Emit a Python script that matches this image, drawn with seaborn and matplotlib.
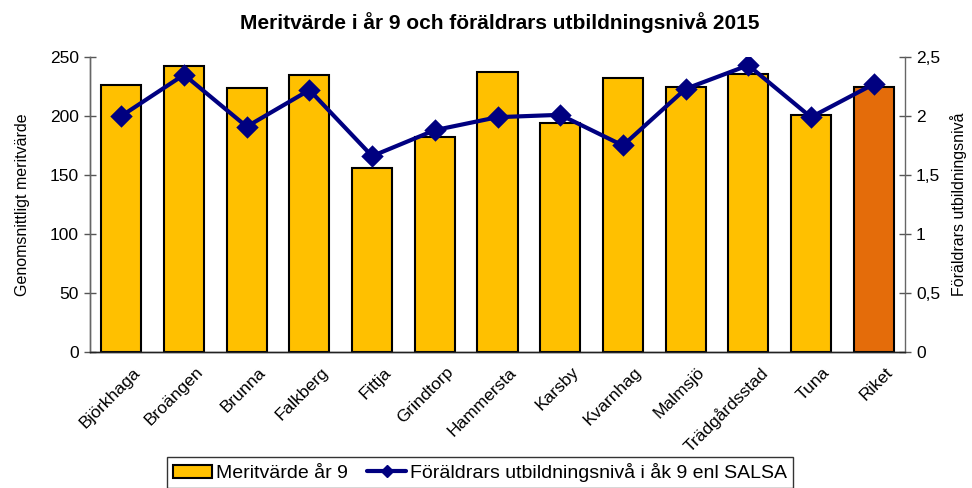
import matplotlib
matplotlib.use("Agg")
import matplotlib.pyplot as plt
import seaborn as sns
from matplotlib.patches import Patch
from matplotlib.lines import Line2D
from matplotlib.transforms import ScaledTranslation

# data
skolor = ["Björkhaga", "Broängen", "Brunna", "Falkberg", "Fittja", "Grindtorp",
          "Hammersta", "Karsby", "Kvarnhag", "Malmsjö", "Trädgårdsstad", "Tuna", "Riket"]
meritvarde = [226, 242, 224, 235, 156, 182, 237, 194, 232, 225, 236, 201, 225]
salsa = [2.0, 2.35, 1.91, 2.22, 1.66, 1.88, 1.99, 2.01, 1.75, 2.23, 2.43, 1.99, 2.27]
bar_colors = ["#FFC000"] * 12 + ["#E46C0A"]
left_ticks = [0, 50, 100, 150, 200, 250]
right_ticks = [0, 0.5, 1, 1.5, 2, 2.5]
right_ticklabels = ["0", "0,5", "1", "1,5", "2", "2,5"]

sns.set_style("white")
plt.rcParams['font.family'] = ['Liberation Sans', 'DejaVu Sans']
plt.rcParams.update({"text.color": "black", "axes.labelcolor": "black",
                     "xtick.labelcolor": "black", "ytick.labelcolor": "black"})

fig = plt.figure(figsize=(9.72, 4.88), dpi=100)
ax = fig.add_axes([90/972, 1-352/488, 815/972, 295/488])

sns.barplot(x=skolor, y=meritvarde, hue=skolor, palette=bar_colors, legend=False,
            width=0.64, edgecolor="black", linewidth=1.5, saturation=1, ax=ax)
ax.set_ylim(0, 250)
ax.set_yticks(left_ticks)
ax.set_ylabel("Genomsnittligt meritvärde", fontsize=11.5, labelpad=14)
ax.set_xlabel("")

ax2 = ax.twinx()
sns.pointplot(x=skolor, y=salsa, color="#000080", markers="D", markersize=9,
              linewidth=3, ax=ax2)
ax2.set_ylim(0, 2.5)
ax2.set_yticks(right_ticks)
ax2.set_yticklabels(right_ticklabels)
ax2.set_ylabel("Föräldrars utbildningsnivå", fontsize=11.5, labelpad=7)
ax2.tick_params(axis="y", direction="inout", length=8, width=1, color="#555555",
                labelcolor="black", labelsize=12.5, pad=4)
ax.set_xlim(-0.5, len(skolor) - 0.5)

# category boundaries as x ticks, labels as minor ticks at centres
ax.set_xticks([i - 0.5 for i in range(len(skolor) + 1)])
ax.set_xticklabels([])
ax.set_xticks(range(len(skolor)), minor=True)
ax.set_xticklabels(skolor, minor=True, rotation=45, ha="right", rotation_mode="anchor", fontsize=12.5)
ax.tick_params(axis="x", which="minor", length=0, pad=9, labelcolor="black")
ax.tick_params(axis="x", which="major", direction="inout", length=8, width=1, color="#333333")
ax.tick_params(axis="y", direction="inout", length=8, width=1, color="#555555",
               labelcolor="black", labelsize=12.5, pad=4)
shift = ScaledTranslation(11/100, 0, fig.dpi_scale_trans)
for lbl in ax.get_xticklabels(minor=True):
    lbl.set_transform(lbl.get_transform() + shift)

for a in (ax, ax2):
    a.spines["top"].set_visible(False)
    a.spines["left"].set_color("#666666")
    a.spines["right"].set_color("#666666")
    a.spines["bottom"].set_color("#222222")
    for s in a.spines.values():
        s.set_linewidth(1)
ax2.spines["right"].set_visible(True)
ax.spines["right"].set_visible(False)

fig.suptitle("Meritvärde i år 9 och föräldrars utbildningsnivå 2015", color="black",
             fontsize=15, fontweight="bold", x=500/972, y=1-12/488, va="top")

handles = [Patch(facecolor="#FFC000", edgecolor="black", linewidth=1.5, label="Meritvärde år 9"),
           Line2D([], [], color="#000080", lw=3, marker="D", markersize=6,
                  label="Föräldrars utbildningsnivå i åk 9 enl SALSA")]
leg = fig.legend(handles=handles, loc="lower center", bbox_to_anchor=(480/972, -0.02),
                 ncol=2, frameon=True, fancybox=False, fontsize=14, labelcolor="black",
                 handlelength=2.0, handletextpad=0.2, columnspacing=1.0, borderpad=0.3)
leg.get_frame().set_edgecolor("black")
leg.get_frame().set_linewidth(1)

fig.savefig("out.png", dpi=100)
